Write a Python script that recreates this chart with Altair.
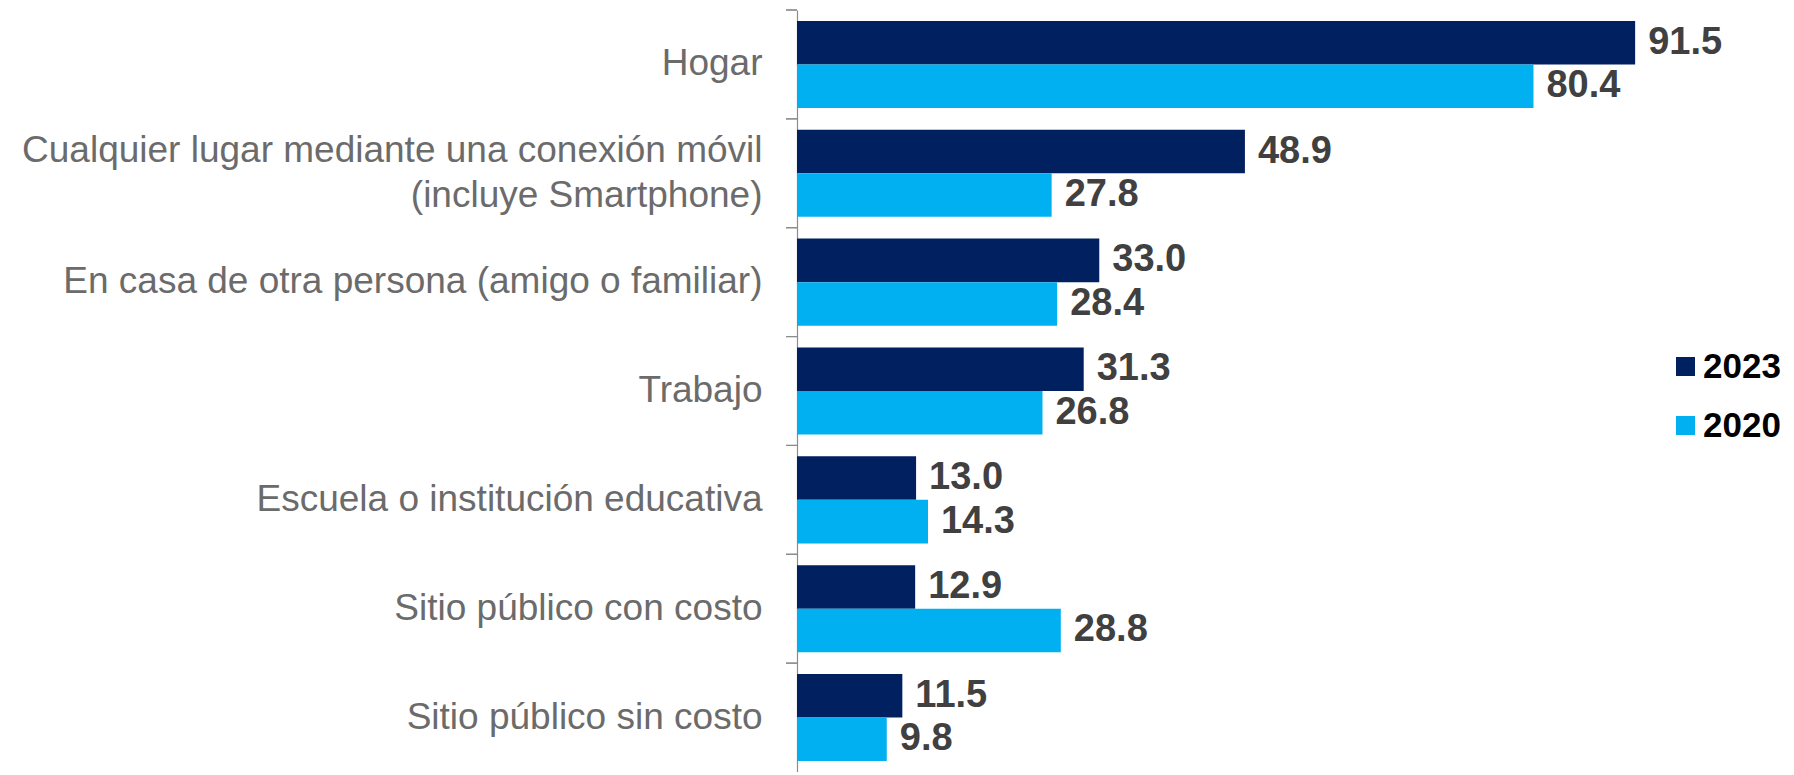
import altair as alt
import pandas as pd

categories = [
    "Hogar",
    "Cualquier lugar mediante una conexión móvil\n(incluye Smartphone)",
    "En casa de otra persona (amigo o familiar)",
    "Trabajo",
    "Escuela o institución educativa",
    "Sitio público con costo",
    "Sitio público sin costo",
]
series = ["2023", "2020"]
values_2023 = [91.5, 48.9, 33.0, 31.3, 13.0, 12.9, 11.5]
values_2020 = [80.4, 27.8, 28.4, 26.8, 14.3, 28.8, 9.8]
colors = ["#002060", "#00B0F0"]

rows = []
for c, v in zip(categories, values_2023):
    rows.append({"cat": c, "serie": "2023", "valor": v})
for c, v in zip(categories, values_2020):
    rows.append({"cat": c, "serie": "2020", "valor": v})
df = pd.DataFrame(rows)

FONT = "Liberation Sans"
W = 970
H = 762
XMAX = W / 9.16

yaxis = alt.Axis(
    title=None,
    ticks=False,
    tickSize=0,
    labelPadding=35,
    labelFontSize=37,
    labelFont=FONT,
    labelColor="#6b6b6b",
    labelLineHeight=45,
    labelLimit=1000,
    labelExpr="split(datum.label, '\\n')",
    labelOffset={"condition": {"test": "indexof(datum.value, '\\n') >= 0", "value": -22},
                 "value": 0},
    domain=True,
    domainColor="#8c8c8c",
    domainWidth=1.2,
)

y_enc = alt.Y("cat:N", sort=categories, axis=yaxis,
              scale=alt.Scale(paddingInner=0, paddingOuter=0))
x_enc = alt.X("valor:Q", axis=None, scale=alt.Scale(domain=[0, XMAX]))
yoff = alt.YOffset("serie:N", sort=series,
                   scale=alt.Scale(paddingInner=0, paddingOuter=0.25))

base = alt.Chart(df)

bars = base.mark_bar().encode(
    y=y_enc,
    yOffset=yoff,
    x=x_enc,
    color=alt.Color(
        "serie:N",
        sort=series,
        scale=alt.Scale(domain=series, range=colors),
        legend=alt.Legend(
            title=None,
            orient="none",
            legendX=871,
            legendY=339,
            padding=0,
            symbolType="square",
            symbolSize=361,
            symbolStrokeWidth=0,
            labelFontSize=35,
            labelFont=FONT,
            labelFontWeight="bold",
            labelColor="#000000",
            labelOffset=0,
            labelLimit=300,
            rowPadding=23,
        ),
    ),
)

labels = base.mark_text(
    align="left", baseline="middle", dx=13,
    font=FONT, fontSize=38, fontWeight="bold", color="#404040",
).encode(
    y=y_enc,
    yOffset=yoff,
    x=x_enc,
    text=alt.Text("valor:Q", format=".1f"),
)

ticks = base.mark_rule(color="#8c8c8c", strokeWidth=1.2).encode(
    y=alt.Y("cat:N", sort=categories, axis=yaxis, bandPosition=0,
            scale=alt.Scale(paddingInner=0, paddingOuter=0)),
    x=alt.value(-11),
    x2=alt.value(0),
)

chart = alt.layer(bars, labels, ticks).properties(
    width=W,
    height=H,
    autosize=alt.AutoSizeParams(type="none"),
    padding={"left": 789, "top": 2, "right": 19, "bottom": 0},
).configure_view(stroke=None)

chart.save("out.html", embed_options={"renderer": "svg", "actions": False})
